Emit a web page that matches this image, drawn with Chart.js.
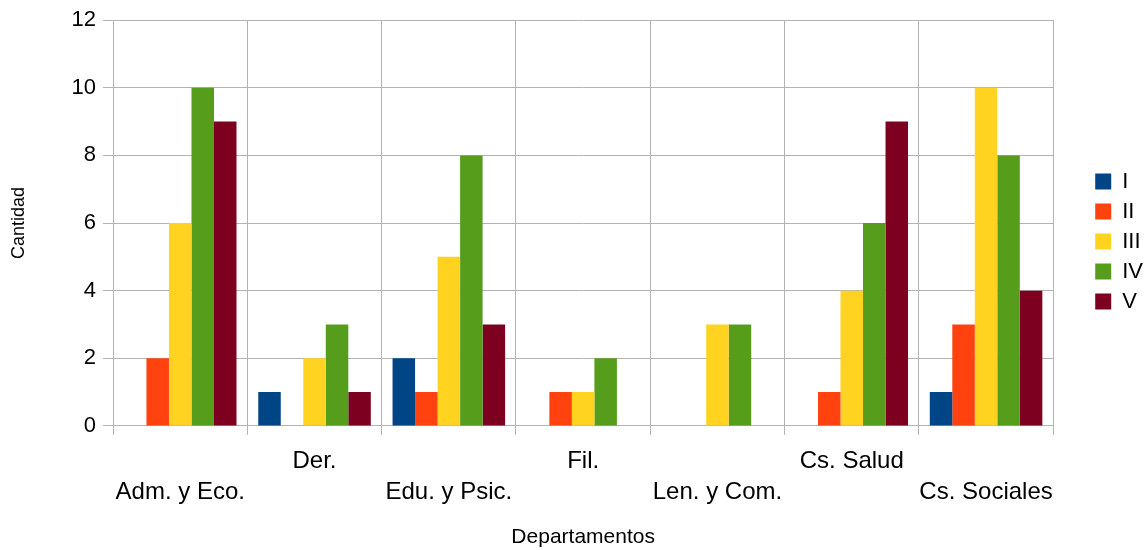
<!DOCTYPE html>
<html>
<head>
<meta charset="utf-8">
<script src="https://cdn.jsdelivr.net/npm/chart.js@4/dist/chart.umd.min.js"></script>
<style>
    html, body { margin: 0; padding: 0; background: #fff; }
    #wrap { width: 1146px; height: 550px; }
</style>
</head>
<body>
<div id="wrap"><canvas id="chart"></canvas></div>
<script>
var categories = ['Adm. y Eco.', 'Der.', 'Edu. y Psic.', 'Fil.', 'Len. y Com.', 'Cs. Salud', 'Cs. Sociales'];
var seriesI   = [0, 1, 2, 0, 0, 0, 1];
var seriesII  = [2, 0, 1, 1, 0, 1, 3];
var seriesIII = [6, 2, 5, 1, 3, 4, 10];
var seriesIV  = [10, 3, 8, 2, 3, 6, 8];
var seriesV   = [9, 1, 3, 0, 0, 9, 4];
var seriesNames = ['I', 'II', 'III', 'IV', 'V'];
var yTicks = [0, 2, 4, 6, 8, 10, 12];

var COLORS = ['#004586', '#ff420e', '#ffd320', '#579d1c', '#7e0021'];
var GRID = '#b3b3b3';
var LEGEND_GAP = 27;      // extra width reserved left of the legend
var LEGEND_SHIFT_X = 34;  // how far the legend items are pushed right
var LEGEND_SHIFT_Y = -39; // legend sits higher than the chart centre

Chart.defaults.font.family = "'Liberation Sans', Arial, sans-serif";
Chart.defaults.color = '#000';

var legendGap = {
    id: 'legendGap',
    beforeLayout: function(chart) {
        var lg = chart.legend;
        if (!lg || lg._gapPatched) return;
        var fit = lg.fit;
        lg.fit = function() {
            fit.call(this);
            this.width += LEGEND_GAP;
        };
        lg._gapPatched = true;
    },
    afterLayout: function(chart) {
        var lg = chart.legend;
        if (!lg) return;
        lg.left += LEGEND_SHIFT_X;
        lg.top += LEGEND_SHIFT_Y;
        lg.bottom += LEGEND_SHIFT_Y;
    }
};

var allSeries = [seriesI, seriesII, seriesIII, seriesIV, seriesV];
var datasets = allSeries.map(function(vals, i) {
    return {
        label: seriesNames[i],
        data: vals,
        backgroundColor: COLORS[i],
        borderWidth: 0,
        barPercentage: 1,
        categoryPercentage: 0.838
    };
});

new Chart(document.getElementById('chart'), {
    type: 'bar',
    data: { labels: categories, datasets: datasets },
    plugins: [legendGap],
    options: {
        responsive: true,
        maintainAspectRatio: false,
        animation: false,
        layout: { padding: { left: 8, right: 0, top: 11, bottom: 0 } },
        plugins: {
            tooltip: { enabled: false },
            legend: {
                position: 'right',
                labels: {
                    boxWidth: 16,
                    boxHeight: 16,
                    padding: 8,
                    font: { size: 22 },
                    color: '#000'
                }
            }
        },
        scales: {
            x: {
                grid: { color: GRID, tickLength: 9, offset: true },
                border: { color: GRID },
                ticks: {
                    maxRotation: 0,
                    autoSkip: false,
                    padding: 11,
                    font: { size: 24, lineHeight: 1.29 },
                    callback: function(v, i) {
                        return i % 2 === 0 ? ['', categories[i]] : [categories[i], ''];
                    }
                },
                title: { display: true, text: 'Departamentos', font: { size: 21 }, padding: { top: 6, bottom: 0 } }
            },
            y: {
                min: 0,
                max: 12,
                afterBuildTicks: function(axis) {
                    axis.ticks = yTicks.map(function(v) { return { value: v }; });
                },
                grid: { color: GRID, tickLength: 10 },
                border: { color: GRID },
                ticks: { font: { size: 22 }, padding: 7 },
                title: { display: true, text: 'Cantidad', font: { size: 18 }, padding: { top: 0, bottom: 35 } }
            }
        }
    }
});
</script>
</body>
</html>
